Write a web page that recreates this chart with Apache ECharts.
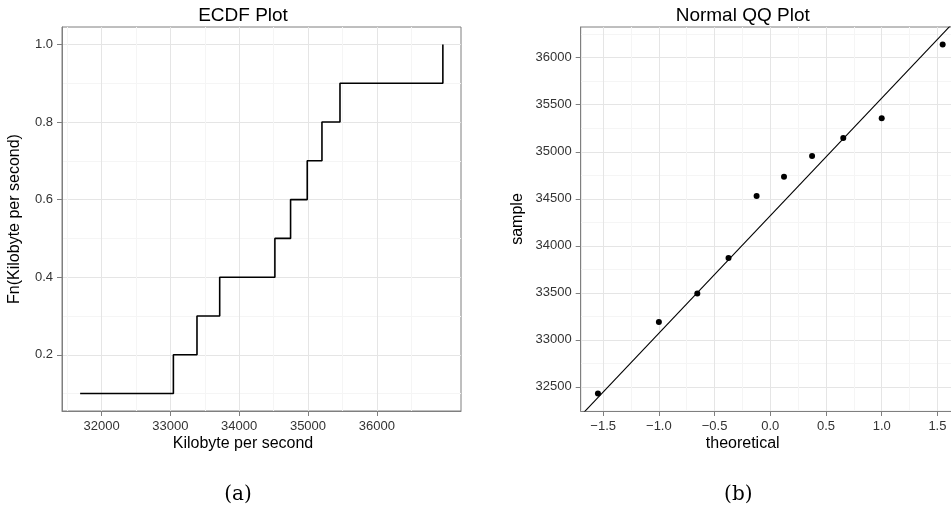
<!DOCTYPE html>
<html>
<head>
<meta charset="utf-8">
<script src="https://cdn.jsdelivr.net/npm/echarts@6/dist/echarts.min.js"></script>
<style>
  html, body { margin: 0; padding: 0; overflow: hidden; background: #ffffff; }
  #chart { width: 961px; height: 510px; }
</style>
</head>
<body>
<div id="chart"></div>
<script>
// ---- ECDF of throughput (kB/s) ----
const ecdfX = [31689, 33044, 33387, 33717, 34519, 34747, 34989, 35203, 35465, 36960];
const ecdfY = [0.1, 0.2, 0.3, 0.4, 0.5, 0.6, 0.7, 0.8, 0.9, 1.0];

// ---- Normal QQ plot ----
const qqTheoretical = [-1.547, -1.000, -0.655, -0.375, -0.123, 0.123, 0.375, 0.655, 1.000, 1.547];
const qqSample = [32429, 33191, 33493, 33870, 34529, 34733, 34954, 35145, 35355, 36141];
const qqLineIntercept = 34320;
const qqLineSlope = 1250;

// ---- tick values ----
const ecdfXTicks = [32000, 33000, 34000, 35000, 36000];
const ecdfXMinor = [31500, 32500, 33500, 34500, 35500, 36500];
const ecdfYTicks = [0.2, 0.4, 0.6, 0.8, 1.0];
const ecdfYMinor = [0.1, 0.3, 0.5, 0.7, 0.9];
const qqXTicks = [-1.5, -1.0, -0.5, 0.0, 0.5, 1.0, 1.5];
const qqXMinor = [-1.25, -0.75, -0.25, 0.25, 0.75, 1.25];
const qqYTicks = [32500, 33000, 33500, 34000, 34500, 35000, 35500, 36000];
const qqYMinor = [32250, 32750, 33250, 33750, 34250, 34750, 35250, 35750, 36250];

// axis ranges: data extent plus 5% on each side
function expand(values) {
  const lo = Math.min.apply(null, values), hi = Math.max.apply(null, values);
  const d = (hi - lo) * 0.05;
  return [lo - d, hi + d];
}
const ecdfXExt = expand(ecdfX), ecdfYExt = expand(ecdfY);
const qqXExt = expand(qqTheoretical), qqYExt = expand(qqSample);

const SANS = '"Liberation Sans", Arial, Helvetica, sans-serif';
const BORDER = '#7f7f7f';
const MAJOR = '#e5e5e5';
const MINOR = '#f5f5f5';
const LABEL = '#333333';

function fmt1(v) {
  const s = Math.abs(v).toFixed(1);
  return v < -1e-9 ? '\u2212' + s : s;
}
function fmt0(v) { return String(Math.round(v)); }

function mainAxis(gridIndex, ext, ticks, formatter, position) {
  return {
    type: 'value', gridIndex: gridIndex, position: position,
    min: ext[0], max: ext[1], scale: true,
    axisLine: { show: true, onZero: false, lineStyle: { color: BORDER, width: 1 } },
    axisTick: { show: true, length: 5, customValues: ticks, lineStyle: { color: BORDER, width: 1 } },
    axisLabel: { show: true, customValues: ticks, formatter: formatter, color: LABEL,
                 fontFamily: SANS, fontSize: 13, margin: 9 },
    splitLine: { show: true, lineStyle: { color: MAJOR, width: 1 } },
    minorTick: { show: false }, minorSplitLine: { show: false }
  };
}
function minorAxis(gridIndex, ext, ticks, position) {
  return {
    type: 'value', gridIndex: gridIndex, position: position,
    min: ext[0], max: ext[1], scale: true,
    axisLine: { show: false, onZero: false },
    axisTick: { show: false, customValues: ticks },
    axisLabel: { show: false, customValues: ticks },
    splitLine: { show: true, lineStyle: { color: MINOR, width: 1 } }
  };
}

function textEl(x, y, text, font, rotation) {
  return {
    type: 'text', x: x, y: y, rotation: rotation || 0, silent: true,
    style: { text: text, font: font, fill: '#000000', align: 'center', verticalAlign: 'middle' }
  };
}

const chart = echarts.init(document.getElementById('chart'), null, { renderer: 'canvas' });

chart.setOption({
  animation: false,
  backgroundColor: '#ffffff',
  grid: [
    { left: 62, top: 27, width: 399, height: 384, show: true, backgroundColor: '#ffffff',
      borderColor: BORDER, borderWidth: 1, containLabel: false, outerBoundsMode: 'none' },
    { left: 580.7, top: 27, width: 379.2, height: 384, show: true, backgroundColor: '#ffffff',
      borderColor: BORDER, borderWidth: 1, containLabel: false, outerBoundsMode: 'none' }
  ],
  xAxis: [
    mainAxis(0, ecdfXExt, ecdfXTicks, fmt0, 'bottom'),
    minorAxis(0, ecdfXExt, ecdfXMinor, 'top'),
    mainAxis(1, qqXExt, qqXTicks, fmt1, 'bottom'),
    minorAxis(1, qqXExt, qqXMinor, 'top')
  ],
  yAxis: [
    mainAxis(0, ecdfYExt, ecdfYTicks, fmt1, 'left'),
    minorAxis(0, ecdfYExt, ecdfYMinor, 'right'),
    mainAxis(1, qqYExt, qqYTicks, fmt0, 'left'),
    minorAxis(1, qqYExt, qqYMinor, 'right')
  ],
  series: [
    {
      name: 'ECDF', type: 'line', xAxisIndex: 0, yAxisIndex: 0,
      step: 'end', showSymbol: false, silent: true, z: 5,
      lineStyle: { color: '#000000', width: 1.6 },
      data: ecdfX.map((x, i) => [x, ecdfY[i]])
    },
    {
      name: 'QQ line', type: 'line', xAxisIndex: 2, yAxisIndex: 2,
      showSymbol: false, silent: true, clip: true, z: 5,
      lineStyle: { color: '#000000', width: 1.1 },
      data: qqXExt.map(x => [x, qqLineIntercept + qqLineSlope * x])
    },
    {
      name: 'sample', type: 'scatter', xAxisIndex: 2, yAxisIndex: 2,
      symbol: 'circle', symbolSize: 6, silent: true, z: 6,
      itemStyle: { color: '#000000', opacity: 1 },
      data: qqTheoretical.map((x, i) => [x, qqSample[i]])
    }
  ],
  graphic: [
    textEl(243, 16, 'ECDF Plot', '19px ' + SANS),
    textEl(742.7, 16, 'Normal QQ Plot', '19px ' + SANS),
    textEl(243, 444, 'Kilobyte per second', '16px ' + SANS),
    textEl(742.7, 444, 'theoretical', '16px ' + SANS),
    textEl(15, 219, 'Fn(Kilobyte per second)', '16px ' + SANS, Math.PI / 2),
    textEl(517.5, 219, 'sample', '16px ' + SANS, Math.PI / 2),
    textEl(238, 495, '(a)', '20px "DejaVu Serif", "Liberation Serif", serif'),
    textEl(738.3, 495, '(b)', '20px "DejaVu Serif", "Liberation Serif", serif')
  ]
});
</script>
</body>
</html>
